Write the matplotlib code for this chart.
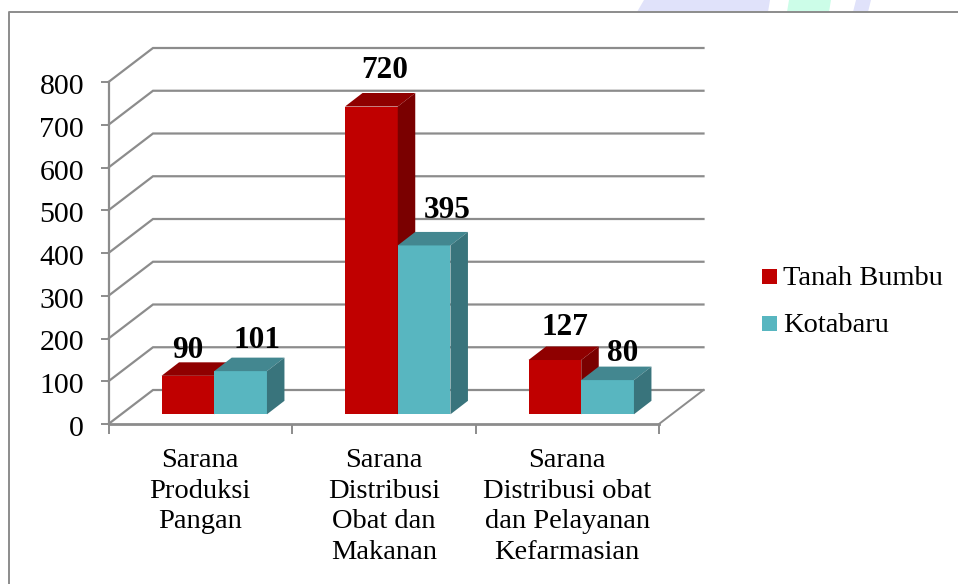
import matplotlib
matplotlib.use('Agg')
import matplotlib.pyplot as plt
from matplotlib.patches import Polygon
from matplotlib.transforms import ScaledTranslation

categories = ['Sarana\nProduksi\nPangan', 'Sarana\nDistribusi\nObat dan\nMakanan',
              'Sarana\nDistribusi obat\ndan Pelayanan\nKefarmasian']
tanah_bumbu = [90, 720, 127]
kotabaru = [101, 395, 80]
y_ticks = [0, 100, 200, 300, 400, 500, 600, 700, 800]

# label offsets from the bar's top centre, in px (placed by hand in the original)
tanah_off = [(0, 25), (13, 36.5), (10, 33)]
kota_off = [(16, 30.5), (23, 35), (15, 27)]

W, H = 958, 584
GRAY = '#8c8c8c'
plt.rcParams['font.family'] = ['Liberation Serif', 'DejaVu Serif']

fig = plt.figure(figsize=(W / 100, H / 100), dpi=100)

# background shapes cut by the top of the frame
bg = fig.add_axes([0, 0, 1, 1], zorder=0)
bg.set_xlim(0, W)
bg.set_ylim(H, 0)
bg.axis('off')
bg.add_patch(Polygon([(637, 12), (644, 0), (770, 0), (768, 12)], color='#e0e2fa', lw=0))
bg.add_patch(Polygon([(787, 12), (789, 0), (831, 0), (829, 12)], color='#ccfde8', lw=0))
bg.add_patch(Polygon([(853, 12), (856, 0), (871, 0), (868, 12)], color='#e0e2fa', lw=0))
bg.plot([9.5, 9.5, W], [H, 12, 12], color=GRAY, lw=1.4)

# front plane of the 3d box: x 108.5-659 px, y 424-82 px
ax = fig.add_axes([108.5 / W, 1 - 424 / H, 550.5 / W, 342 / H], zorder=1)
ax.set_xlim(0, 3)
ax.set_ylim(0, 800)
ax.patch.set_alpha(0)
for s in ax.spines.values():
    s.set_visible(False)

px_x = 3 / 550.5
px_y = 800 / 342
depth_x, depth_y = 44.5 * px_x, 34 * px_y
bar_dx, bar_dy = 17.5 * px_x, 13.5 * px_y
bar_w = 52.7 * px_x
shift_x = 14 * px_x
base = 9.7 * px_y

# gridlines: side wall + back wall
for v in y_ticks:
    ax.plot([0, depth_x, 3 + depth_x], [v, v + depth_y, v + depth_y],
            color=GRAY, lw=1.6, clip_on=False, zorder=1, solid_joinstyle='miter')
ax.plot([3, 3 + depth_x], [0, depth_y], color=GRAY, lw=1.4, clip_on=False, zorder=1)
ax.plot([0, 3], [0, 0], color=GRAY, lw=2, clip_on=False, zorder=2)
ax.plot([0, 0], [0, 800], color=GRAY, lw=1.6, clip_on=False, zorder=2)


def draw_bars(xs, vals, offs, front, top, side, z):
    ax.bar(xs, vals, bar_w, bottom=base, align='edge', color=front, zorder=z, clip_on=False)
    for x, v, off in zip(xs, vals, offs):
        y = base + v
        ax.add_patch(Polygon([(x, y), (x + bar_dx, y + bar_dy), (x + bar_w + bar_dx, y + bar_dy),
                              (x + bar_w, y)], color=top, lw=0, zorder=z, clip_on=False))
        ax.add_patch(Polygon([(x + bar_w, base), (x + bar_w + bar_dx, base + bar_dy),
                              (x + bar_w + bar_dx, y + bar_dy), (x + bar_w, y)],
                             color=side, lw=0, zorder=z, clip_on=False))
        ax.annotate(str(v), (x + bar_w / 2, y), xytext=(off[0] * 0.72, off[1] * 0.72),
                    textcoords='offset points', ha='center', va='center', fontsize=22.5,
                    fontweight='bold', color='black', zorder=6, annotation_clip=False)


centers = [i + 0.5 + shift_x for i in range(3)]
draw_bars([c - bar_w for c in centers], tanah_bumbu, tanah_off, '#c00000', '#8f0000', '#7a0000', 3)
draw_bars(centers, kotabaru, kota_off, '#58b6c0', '#438790', '#39747c', 4)

ax.set_yticks(y_ticks)
ax.set_xticks([0, 1, 2, 3])
ax.set_xticklabels([])
ax.set_xticks([0.5, 1.5, 2.5], categories, minor=True)
ax.tick_params(axis='y', length=6, width=1.4, color=GRAY, labelsize=21.5, pad=11.5)
ax.tick_params(axis='x', which='major', length=7, width=1.4, color=GRAY)
ax.tick_params(axis='x', which='minor', length=0, labelsize=20.5, pad=17)
for lab in ax.get_xticklabels(minor=True):
    lab.set_linespacing(1.31)
# tick numbers sit a little below their ticks
down = ScaledTranslation(0, -2 / 100, fig.dpi_scale_trans)
for lab in ax.get_yticklabels():
    lab.set_transform(lab.get_transform() + down)

# legend
legend_items = ['Tanah Bumbu', 'Kotabaru']
legend_colors = ['#c00000', '#58b6c0']
for name, col, y in zip(legend_items, legend_colors, [276.5, 323.5]):
    bg.add_patch(Polygon([(762, y - 7.5), (777, y - 7.5), (777, y + 7.5), (762, y + 7.5)], color=col, lw=0))
    bg.text(783, y + 2, name, fontsize=20.5, va='center', ha='left', color='black')

fig.savefig('out.png', dpi=100)
